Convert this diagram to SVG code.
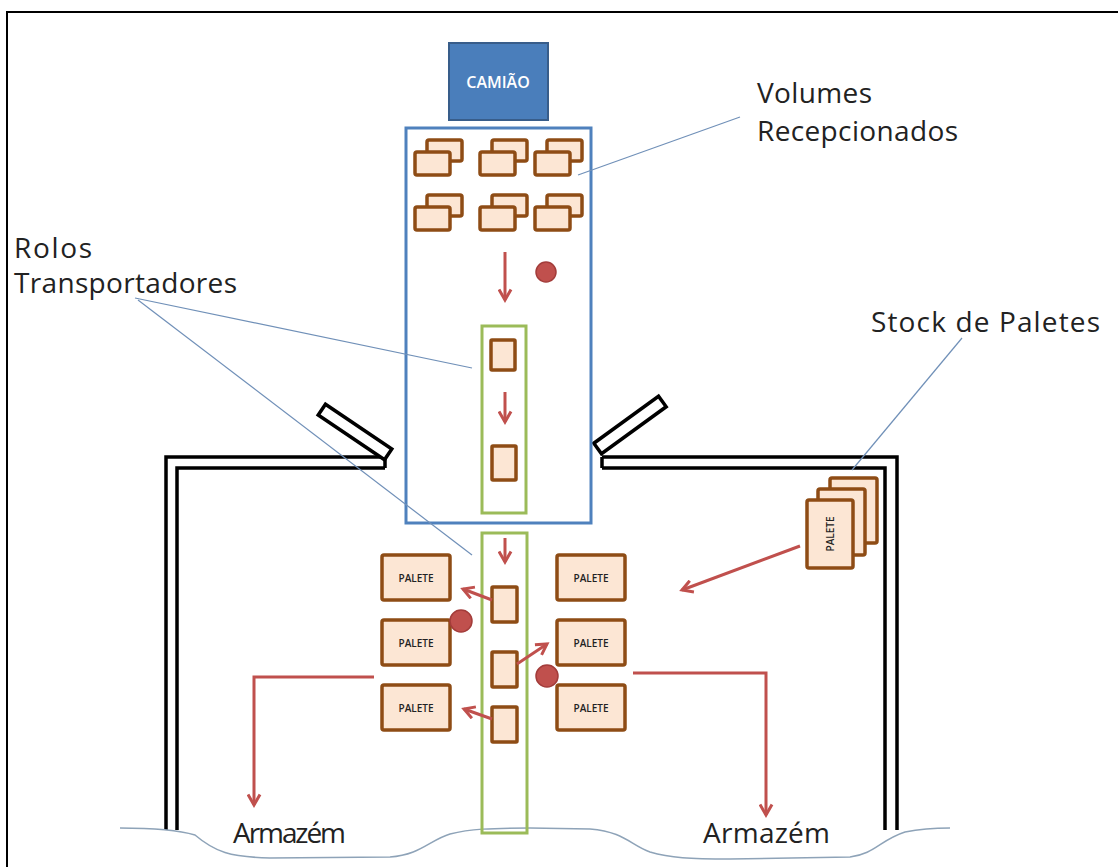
<svg xmlns="http://www.w3.org/2000/svg" width="1118" height="867" viewBox="0 0 1118 867">
<defs>
<style>
.lbl{font-family:"Open Sans","Liberation Sans",sans-serif;font-size:28px;fill:#222}
.box{fill:#fce6d4;stroke:#8e4c15;stroke-width:3.5}
.pal{font-family:"Open Sans","Liberation Sans",sans-serif;font-size:10px;font-weight:600;fill:#222;text-anchor:middle}
.wall{fill:none;stroke:#000;stroke-width:3.5}
.lead{fill:none;stroke:#7090b8;stroke-width:1.2}
.arr{fill:none;stroke:#c0504d;stroke-width:3;marker-end:url(#ah)}
.dot{fill:#c0504d;stroke:#a33c3a;stroke-width:1.5}
</style>
<marker id="ah" viewBox="0 0 10 10" refX="8" refY="5" markerWidth="5" markerHeight="5" orient="auto" markerUnits="strokeWidth">
<path d="M1,1 L8,5 L1,9" fill="none" stroke="#c0504d" stroke-width="2"/>
</marker>
</defs>
<rect width="1118" height="867" fill="#fff"/>
<rect x="7" y="12" width="1125" height="875" fill="none" stroke="#000" stroke-width="2"/>

<g id="walls">
<path class="wall" d="M385,457 H166 V830 M385,468 H177 V830 M385,457 V468"/>
<path class="wall" d="M602,457 H897 V830 M602,468 H885 V830 M602,457 V468"/>
<rect x="-40" y="-6.5" width="80" height="13" transform="translate(355,432) rotate(34)" fill="#fff" stroke="#000" stroke-width="3.5"/>
<rect x="-40" y="-6.5" width="80" height="13" transform="translate(630,425) rotate(-36)" fill="#fff" stroke="#000" stroke-width="3.5"/>
</g>

<g id="ground">
<path d="M120,828 C150,828 175,829 195,835 C215,852 230,857 270,858 L390,857 C420,855 430,840 450,834 C470,829 490,828 530,828 L590,829 C625,832 630,845 650,852 C670,858 690,859 730,859 L850,857 C875,854 880,840 905,832 C920,829 935,828 950,828" fill="none" stroke="#8ea3b8" stroke-width="1.5"/>
</g>

<g id="camiao">
<rect x="449" y="43" width="99" height="77" fill="#4a7ebb" stroke="#385d8a" stroke-width="2"/>
<text x="498" y="88" font-family="'Open Sans','Liberation Sans',sans-serif" font-size="16" font-weight="600" fill="#fff" text-anchor="middle">CAMIÃO</text>
</g>

<g id="rececao">
<rect x="406" y="128" width="185" height="395" fill="#fff" stroke="#4f81bd" stroke-width="3"/>
</g>

<g id="volumes">
<rect class="box" x="427" y="140" width="35" height="21" rx="2"/><rect class="box" x="415" y="152" width="35" height="23" rx="2"/>
<rect class="box" x="492" y="140" width="35" height="21" rx="2"/><rect class="box" x="480" y="152" width="35" height="23" rx="2"/>
<rect class="box" x="547" y="140" width="35" height="21" rx="2"/><rect class="box" x="535" y="152" width="35" height="23" rx="2"/>
<rect class="box" x="427" y="195" width="35" height="21" rx="2"/><rect class="box" x="415" y="207" width="35" height="23" rx="2"/>
<rect class="box" x="492" y="195" width="35" height="21" rx="2"/><rect class="box" x="480" y="207" width="35" height="23" rx="2"/>
<rect class="box" x="547" y="195" width="35" height="21" rx="2"/><rect class="box" x="535" y="207" width="35" height="23" rx="2"/>
</g>

<g id="rolos1">
<rect x="482" y="326" width="44" height="187" fill="none" stroke="#9bbb59" stroke-width="3"/>
<rect class="box" x="491" y="340" width="24" height="30" rx="1"/>
<rect class="box" x="492" y="446" width="24" height="34" rx="1"/>
</g>

<g id="rolos2">
<rect x="482" y="533" width="45" height="300" fill="none" stroke="#9bbb59" stroke-width="3"/>
<rect class="box" x="492" y="587" width="25" height="35" rx="1"/>
<rect class="box" x="492" y="652" width="25" height="35" rx="1"/>
<rect class="box" x="492" y="707" width="25" height="35" rx="1"/>
</g>

<g id="paletes-esq">
<rect class="box" x="382" y="555" width="68" height="45" rx="2"/><text class="pal" x="416" y="582">PALETE</text>
<rect class="box" x="382" y="620" width="68" height="45" rx="2"/><text class="pal" x="416" y="647">PALETE</text>
<rect class="box" x="382" y="685" width="68" height="45" rx="2"/><text class="pal" x="416" y="712">PALETE</text>
</g>

<g id="paletes-dir">
<rect class="box" x="557" y="555" width="68" height="45" rx="2"/><text class="pal" x="591" y="582">PALETE</text>
<rect class="box" x="557" y="620" width="68" height="45" rx="2"/><text class="pal" x="591" y="647">PALETE</text>
<rect class="box" x="557" y="685" width="68" height="45" rx="2"/><text class="pal" x="591" y="712">PALETE</text>
</g>

<g id="stock">
<rect class="box" x="830" y="478" width="47" height="65" rx="2"/>
<rect class="box" x="818" y="489" width="47" height="66" rx="2"/>
<rect class="box" x="807" y="500" width="46" height="68" rx="2"/>
<text class="pal" transform="translate(834,534) rotate(-90)">PALETE</text>
</g>

<g id="dots">
<circle class="dot" cx="546" cy="272" r="10"/>
<circle class="dot" cx="461" cy="621" r="11"/>
<circle class="dot" cx="547" cy="676" r="11"/>
</g>

<g id="connectors">
<path class="arr" d="M505,252 V300"/>
<path class="arr" d="M505,392 V422"/>
<path class="arr" d="M505,538 V562"/>
<path class="arr" d="M492,600 L463,589"/>
<path class="arr" d="M517,664 L547,644"/>
<path class="arr" d="M492,719 L464,709"/>
<path class="arr" d="M800,546 L682,590"/>
<path class="arr" d="M374,677 H254 V805"/>
<path class="arr" d="M633,673 H766 V815"/>
<path class="lead" d="M578,175 L740,117"/>
<path class="lead" d="M135,298 L472,368"/>
<path class="lead" d="M138,300 L472,555"/>
<path class="lead" d="M962,338 L852,470"/>
</g>

<g id="labels">
<text class="lbl" x="757" y="103" textLength="115">Volumes</text>
<text class="lbl" x="757" y="141" textLength="201">Recepcionados</text>
<text class="lbl" x="14" y="258" textLength="78">Rolos</text>
<text class="lbl" x="14" y="293" textLength="223">Transportadores</text>
<text class="lbl" x="871" y="332" textLength="229">Stock de Paletes</text>
<text class="lbl" x="233" y="843" textLength="113">Armazém</text>
<text class="lbl" x="703" y="843" textLength="127">Armazém</text>
</g>
</svg>
